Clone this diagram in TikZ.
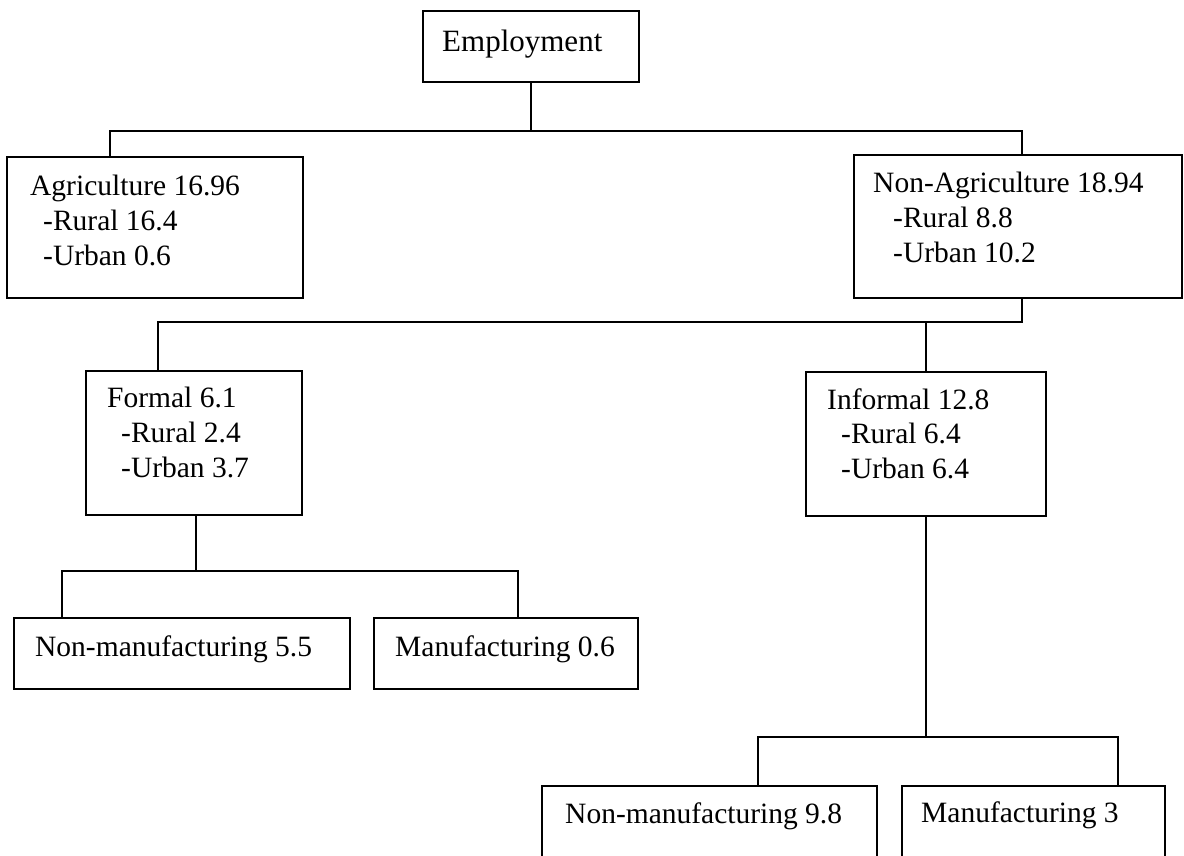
\documentclass[tikz,border=0pt]{standalone}
\usepackage{fontspec}
\setmainfont{Liberation Serif}
\begin{document}
\begin{tikzpicture}[x=1pt,y=-1pt,
  bx/.style={draw,line width=2pt,inner sep=0pt},
  lbl/.style={inner sep=0pt,anchor=base west,font=\fontsize{29.5}{35}\selectfont},
  conn/.style={line width=2pt}]
\useasboundingbox (0,0) rectangle (1184,855);
% boxes
\node[bx,minimum width=216pt,minimum height=71pt] (emp) at (531,46.5) {};
\node[bx,minimum width=296pt,minimum height=141pt] (agri) at (155,227.5) {};
\node[bx,minimum width=328pt,minimum height=143pt] (nonagri) at (1018,226.5) {};
\node[bx,minimum width=216pt,minimum height=144pt] (formal) at (194,443) {};
\node[bx,minimum width=240pt,minimum height=144pt] (informal) at (926,444) {};
\node[bx,minimum width=336pt,minimum height=71pt] (nm1) at (182,653.5) {};
\node[bx,minimum width=264pt,minimum height=71pt] (m1) at (506,653.5) {};
\node[bx,minimum width=335pt,minimum height=80pt] (nm2) at (709.5,826) {};
\node[bx,minimum width=263pt,minimum height=80pt] (m2) at (1033.5,826) {};
% texts
\node[lbl,font=\fontsize{31}{35}\selectfont] (temp) at (442,51) {Employment};
\node[lbl] (ta1) at (30,195) {Agriculture 16.96};
\node[lbl] (ta2) at (43,230) {-Rural 16.4};
\node[lbl] (ta3) at (43,265) {-Urban 0.6};
\node[lbl] (tn1) at (873,192) {Non-Agriculture 18.94};
\node[lbl] (tn2) at (893,227) {-Rural 8.8};
\node[lbl] (tn3) at (893,262) {-Urban 10.2};
\node[lbl] (tf1) at (107,407) {Formal 6.1};
\node[lbl] (tf2) at (121,442) {-Rural 2.4};
\node[lbl] (tf3) at (121,477) {-Urban 3.7};
\node[lbl] (ti1) at (827,409) {Informal 12.8};
\node[lbl] (ti2) at (841,443) {-Rural 6.4};
\node[lbl] (ti3) at (841,478) {-Urban 6.4};
\node[lbl] (tnm1) at (35,656) {Non-manufacturing 5.5};
\node[lbl] (tm1) at (395,656) {Manufacturing 0.6};
\node[lbl] (tnm2) at (565,823) {Non-manufacturing 9.8};
\node[lbl] (tm2) at (921,822) {Manufacturing 3};
% junction points
\coordinate (j0) at (531,131);
\coordinate (jl) at (110,131);
\coordinate (jr) at (1022,131);
\coordinate (k0) at (1022,322);
\coordinate (kl) at (158,322);
\coordinate (kf) at (926,322);
\coordinate (m0) at (196,571);
\coordinate (ml) at (62,571);
\coordinate (mr) at (518,571);
\coordinate (n0) at (926,737);
\coordinate (nl) at (758,737);
\coordinate (nr) at (1118,737);
% connectors
\draw[conn] (emp.south) -- (j0);
\draw[conn] (agri.north -| jl) -- (jl) -- (jr) -- (nonagri.north -| jr);
\draw[conn] (nonagri.south -| k0) -- (k0) -- (kl) -- (formal.north -| kl);
\draw[conn] (kf) -- (informal.north);
\draw[conn] (formal.south -| m0) -- (m0);
\draw[conn] (nm1.north -| ml) -- (ml) -- (mr) -- (m1.north -| mr);
\draw[conn] (informal.south) -- (n0);
\draw[conn] (nm2.north -| nl) -- (nl) -- (nr) -- (m2.north -| nr);
\end{tikzpicture}
\end{document}
